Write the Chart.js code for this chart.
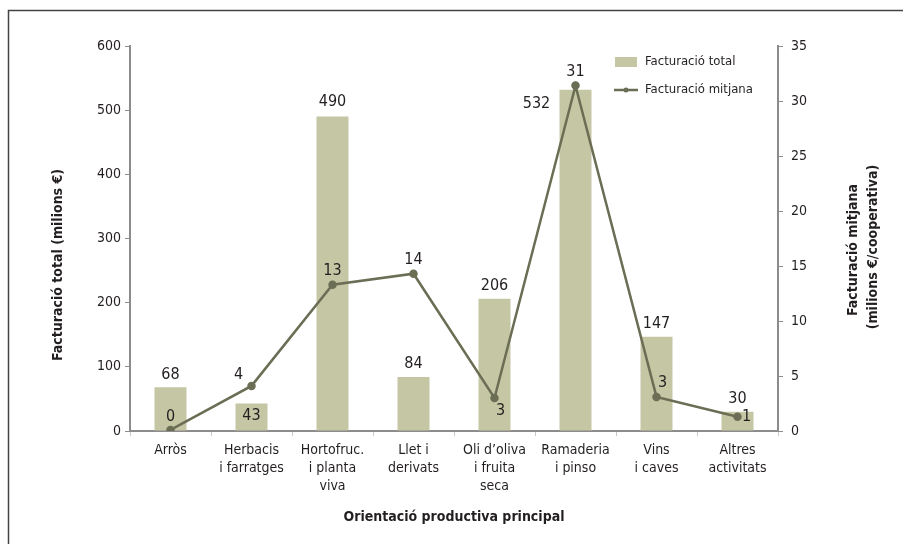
<!DOCTYPE html>
<html>
<head>
<meta charset="utf-8">
<script src="https://cdn.jsdelivr.net/npm/chart.js@4"></script>
<style>
  html, body { margin: 0; padding: 0; background: #fff; }
  #wrap { width: 903px; height: 544px; position: relative; }
</style>
</head>
<body>
<div id="wrap"><canvas id="grafica"></canvas></div>
<script>
// dades
const categories = [
    ["Arròs"], ["Herbacis", "i farratges"], ["Hortofruc.", "i planta", "viva"],
    ["Llet i", "derivats"], ["Oli d\u2019oliva", "i fruita", "seca"],
    ["Ramaderia", "i pinso"], ["Vins", "i caves"], ["Altres", "activitats"]
];
const facturacioTotal = [68, 43, 490, 84, 206, 532, 147, 30];
const facturacioMitjana = [0.1, 4.1, 13.3, 14.3, 3.0, 31.4, 3.1, 1.3];
const etiquetesTotal = ["68", "43", "490", "84", "206", "532", "147", "30"];
const etiquetesMitjana = ["0", "4", "13", "14", "3", "31", "3", "1"];
const ticksTotal = [0, 100, 200, 300, 400, 500, 600];
const ticksMitjana = [0, 5, 10, 15, 20, 25, 30, 35];

// desplaçaments de les etiquetes respecte a cada marca (dx, dy)
const despTotal = [[0, -13], [0, 12], [0, -15], [0, -13], [0, -13], [-39, 14], [0, -13], [0, -13]];
const despMitjana = [[0, -13], [-13, -11], [0, -14], [0, -14], [6, 13], [0, -14], [6, -14], [9, 0]];

const FONT = '"Liberation Sans Narrow", "DejaVu Sans Condensed", "Roboto Condensed", sans-serif';
const COLOR_BARRA = '#c4c6a4';
const COLOR_LINIA = '#6b6e55';
const COLOR_TEXT = '#231f20';
const COLOR_EIX = '#8c8c8c';

// etiquetes, llegenda, títols i marc
const extres = {
    id: 'extres',
    beforeDraw(chart) {
        const c = chart.ctx;
        c.save();
        c.strokeStyle = '#444';
        c.lineWidth = 1.5;
        c.beginPath();
        c.moveTo(903, 10.5); c.lineTo(8.5, 10.5); c.lineTo(8.5, 544);
        c.stroke();
        c.restore();
    },
    afterDatasetsDraw(chart) {
        const c = chart.ctx;
        c.save();
        c.fillStyle = COLOR_TEXT;
        c.font = '16px ' + FONT;
        c.textAlign = 'center';
        c.textBaseline = 'middle';
        chart.getDatasetMeta(0).data.forEach((el, i) => {
            c.fillText(etiquetesTotal[i], el.x + despTotal[i][0], el.y + despTotal[i][1]);
        });
        chart.getDatasetMeta(1).data.forEach((el, i) => {
            c.fillText(etiquetesMitjana[i], el.x + despMitjana[i][0], el.y + despMitjana[i][1]);
        });

        // llegenda
        c.font = '13px ' + FONT;
        c.textAlign = 'left';
        c.fillStyle = COLOR_BARRA;
        c.fillRect(615, 57, 22, 10);
        c.fillStyle = COLOR_TEXT;
        c.fillText('Facturació total', 645, 62);
        c.strokeStyle = COLOR_LINIA;
        c.lineWidth = 2.5;
        c.beginPath(); c.moveTo(614, 90); c.lineTo(638, 90); c.stroke();
        c.fillStyle = COLOR_LINIA;
        c.beginPath(); c.arc(626, 90, 2.5, 0, Math.PI * 2); c.fill();
        c.fillStyle = COLOR_TEXT;
        c.fillText('Facturació mitjana', 645, 90);

        // títols dels eixos
        c.font = 'bold 14px ' + FONT;
        c.textAlign = 'center';
        c.fillText('Orientació productiva principal', 454, 517);
        c.translate(58, 265);
        c.rotate(-Math.PI / 2);
        c.fillText('Facturació total (milions €)', 0, 0);
        c.restore();
        c.save();
        c.fillStyle = COLOR_TEXT;
        c.font = 'bold 14px ' + FONT;
        c.textAlign = 'center';
        c.textBaseline = 'middle';
        c.translate(853, 250);
        c.rotate(-Math.PI / 2);
        c.fillText('Facturació mitjana', 0, 0);
        c.fillText('(milions €/cooperativa)', 3, 20);
        c.restore();
    }
};

new Chart(document.getElementById('grafica'), {
    type: 'bar',
    data: {
        labels: categories,
        datasets: [{
            label: 'Facturació total',
            data: facturacioTotal,
            backgroundColor: COLOR_BARRA,
            categoryPercentage: 1,
            barPercentage: 0.395,
            yAxisID: 'y',
            order: 1
        }, {
            type: 'line',
            label: 'Facturació mitjana',
            data: facturacioMitjana,
            borderColor: COLOR_LINIA,
            backgroundColor: COLOR_LINIA,
            borderWidth: 2.5,
            pointRadius: 3,
            pointBackgroundColor: COLOR_LINIA,
            tension: 0,
            yAxisID: 'y1',
            order: 0
        }]
    },
    options: {
        responsive: true,
        maintainAspectRatio: false,
        animation: false,
        layout: { padding: { top: 46, left: 0, right: 0, bottom: 0 } },
        plugins: { legend: { display: false }, tooltip: { enabled: false } },
        scales: {
            x: {
                grid: { display: true, drawOnChartArea: false, color: '#c8c8c8', tickLength: 5, offset: true },
                border: { color: COLOR_EIX, width: 2 },
                ticks: { color: COLOR_TEXT, font: { family: FONT, size: 14, lineHeight: 1.29 }, padding: 5, maxRotation: 0, autoSkip: false },
                afterFit(s) { s.height = 113; }
            },
            y: {
                position: 'left',
                min: 0, max: 600,
                afterBuildTicks(s) { s.ticks = ticksTotal.map(v => ({ value: v })); },
                grid: { drawOnChartArea: false, color: COLOR_EIX, tickLength: 5 },
                border: { color: COLOR_EIX, width: 2 },
                ticks: { color: COLOR_TEXT, font: { family: FONT, size: 14 }, padding: 4 },
                afterFit(s) { s.width = 130; }
            },
            y1: {
                position: 'right',
                min: 0, max: 35,
                afterBuildTicks(s) { s.ticks = ticksMitjana.map(v => ({ value: v })); },
                grid: { drawOnChartArea: false, color: COLOR_EIX, tickLength: 5 },
                border: { color: COLOR_EIX, width: 2 },
                ticks: { color: COLOR_TEXT, font: { family: FONT, size: 14 }, padding: 8 },
                afterFit(s) { s.width = 125; }
            }
        }
    },
    plugins: [extres]
});
</script>
</body>
</html>
